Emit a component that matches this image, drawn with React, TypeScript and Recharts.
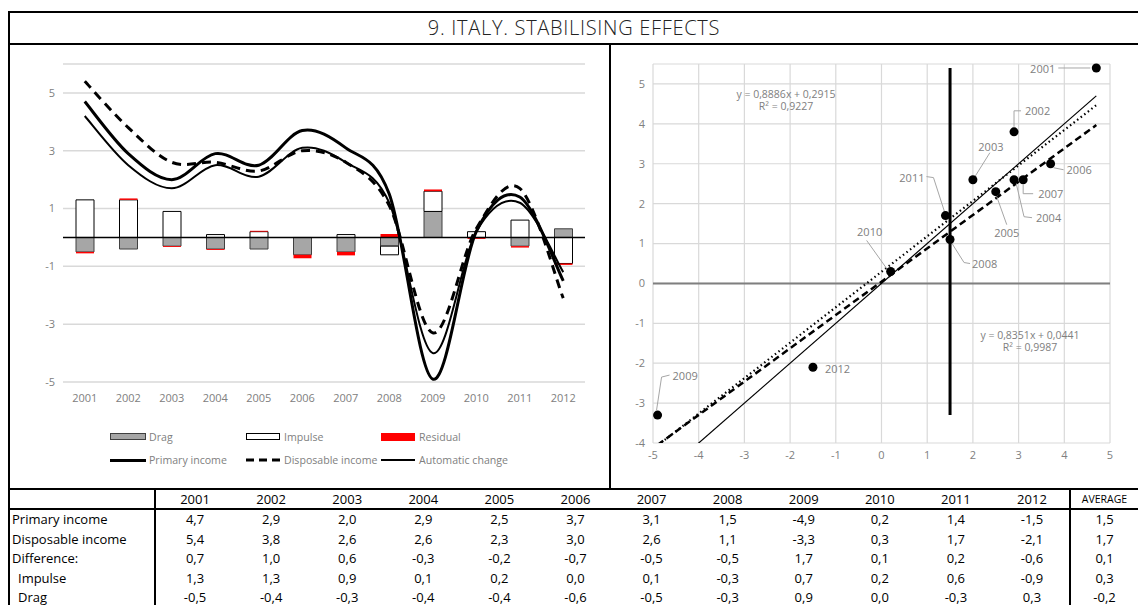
import React from 'react';
import {
  Bar, CartesianGrid, ComposedChart, Line, ReferenceLine, Scatter, ScatterChart, XAxis, YAxis,
} from 'recharts';

const years = ['2001', '2002', '2003', '2004', '2005', '2006', '2007', '2008', '2009', '2010', '2011', '2012'];
const primaryIncome = [4.7, 2.9, 2.0, 2.9, 2.5, 3.7, 3.1, 1.5, -4.9, 0.2, 1.4, -1.5];
const disposableIncome = [5.4, 3.8, 2.6, 2.6, 2.3, 3.0, 2.6, 1.1, -3.3, 0.3, 1.7, -2.1];
const automaticChange = [4.2, 2.5, 1.7, 2.5, 2.1, 3.1, 2.6, 1.2, -4.0, 0.2, 1.2, -1.2];
const difference = [0.7, 1.0, 0.6, -0.3, -0.2, -0.7, -0.5, -0.5, 1.7, 0.1, 0.2, -0.6];
const impulse = [1.3, 1.3, 0.9, 0.1, 0.2, 0.0, 0.1, -0.3, 0.7, 0.2, 0.6, -0.9];
const drag = [-0.5, -0.4, -0.3, -0.4, -0.4, -0.6, -0.5, -0.3, 0.9, 0.0, -0.3, 0.3];
const residual = [-0.05, 0.05, -0.03, -0.03, 0.03, -0.12, -0.12, 0.12, 0.06, -0.05, -0.05, -0.05];

const avgPrimary = 1.5;
const avgDisposable = 1.7;
const avgDifference = 0.1;
const avgImpulse = 0.3;
const avgDrag = -0.2;

const trendDotted = {slope: 0.8886, intercept: 0.2915, r2: 0.9227};
const trendDashed = {slope: 0.8351, intercept: 0.0441, r2: 0.9987};

const leftTicks = [-5, -3, -1, 1, 3, 5];
const scatterXTicks = [-5, -4, -3, -2, -1, 0, 1, 2, 3, 4, 5];
const scatterYTicks = [-4, -3, -2, -1, 0, 1, 2, 3, 4, 5];

const FONT = '"Open Sans", "DejaVu Sans", sans-serif';
const GREY = '#808080';

const leftData = years.map((year, i) => ({
  year,
  drag: drag[i],
  impulse: impulse[i],
  residual: residual[i],
  primary: primaryIncome[i],
  disposable: disposableIncome[i],
  automatic: automaticChange[i],
}));

const scatterData = years.map((year, i) => ({year, x: primaryIncome[i], y: disposableIncome[i]}));

const fmt = (v: number, d = 1) => v.toFixed(d).replace('.', ',');

// excel-like smoothed line (catmull-rom through the points)
const excelSmooth: any = (context: any) => {
  let pts: number[][] = [];
  return {
    areaStart() {},
    areaEnd() {},
    lineStart() { pts = []; },
    point(x: number, y: number) { pts.push([+x, +y]); },
    lineEnd() {
      if (!pts.length) return;
      context.moveTo(pts[0][0], pts[0][1]);
      for (let i = 0; i < pts.length - 1; i++) {
        const p0 = pts[Math.max(i - 1, 0)];
        const p1 = pts[i];
        const p2 = pts[i + 1];
        const p3 = pts[Math.min(i + 2, pts.length - 1)];
        context.bezierCurveTo(
          p1[0] + (p2[0] - p0[0]) / 6, p1[1] + (p2[1] - p0[1]) / 6,
          p2[0] - (p3[0] - p1[0]) / 6, p2[1] - (p3[1] - p1[1]) / 6,
          p2[0], p2[1],
        );
      }
    },
  };
};

// label offsets (px) relative to each scatter point
const labelPlacement: Record<string, {dx: number; dy: number; anchor: string; leader: number[][]}> = {
  '2001': {dx: -41, dy: 1, anchor: 'end', leader: [[-6, 0], [-38, 0]]},
  '2002': {dx: 11, dy: -21, anchor: 'start', leader: [[0, -5], [0, -21], [7, -21]]},
  '2003': {dx: 18, dy: -33, anchor: 'middle', leader: [[2, -3], [17, -27]]},
  '2004': {dx: 22, dy: 38, anchor: 'start', leader: [[2, 3], [10, 37], [18, 38]]},
  '2005': {dx: 11, dy: 41, anchor: 'middle', leader: [[1, 5], [11, 33]]},
  '2006': {dx: 16, dy: 6, anchor: 'start', leader: [[3, 4], [13, 6]]},
  '2007': {dx: 15, dy: 14, anchor: 'start', leader: [[0, 5], [0, 14], [10, 14]]},
  '2008': {dx: 22, dy: 24, anchor: 'start', leader: [[2, 4], [14, 23], [20, 24]]},
  '2009': {dx: 15, dy: -40, anchor: 'start', leader: [[-1, -5], [4, -38], [12, -40]]},
  '2010': {dx: -21, dy: -40, anchor: 'middle', leader: [[-4, -3], [-24, -31]]},
  '2011': {dx: -21, dy: -38, anchor: 'end', leader: [[-1, -4], [-12, -38], [-19, -39]]},
  '2012': {dx: 12, dy: 1, anchor: 'start', leader: []},
};

const ScatterPoint = (props: any) => {
  const {cx, cy, payload} = props;
  const p = labelPlacement[payload.year];
  return (
    <g>
      {p.leader.length > 0 && (
        <polyline
          points={p.leader.map(([a, b]) => `${cx + a},${cy + b}`).join(' ')}
          fill="none" stroke="#a6a6a6" strokeWidth={1}
        />
      )}
      <circle cx={cx} cy={cy} r={4.5} fill="#000"/>
      <text x={cx + p.dx} y={cy + p.dy} textAnchor={p.anchor as any} dominantBaseline="central"
            fontSize={11} fill={GREY} fontFamily={FONT}>{payload.year}</text>
    </g>
  );
};

const hLine = (left: number, top: number, width: number, h = 2) => (
  <div style={{position: 'absolute', left, top, width, height: h, background: '#000'}}/>
);
const vLine = (left: number, top: number, height: number, w = 2) => (
  <div style={{position: 'absolute', left, top, width: w, height, background: '#000'}}/>
);

const legendText: React.CSSProperties = {position: 'absolute', fontSize: 10.6, color: GREY, lineHeight: '14px'};

const tableRows = [
  {label: 'Primary income', values: primaryIncome, avg: avgPrimary, indent: false},
  {label: 'Disposable income', values: disposableIncome, avg: avgDisposable, indent: false},
  {label: 'Difference:', values: difference, avg: avgDifference, indent: false},
  {label: 'Impulse', values: impulse, avg: avgImpulse, indent: true},
  {label: 'Drag', values: drag, avg: avgDrag, indent: true},
];

const COL0 = 155;
const COLW = (1070 - 157) / 12;
const ROW_TOP = 511;
const ROW_H = 19.5;

const App = () => {
  const xMin = Math.min(...primaryIncome);
  const xMax = Math.max(...primaryIncome);
  const yMin = Math.min(...disposableIncome);
  const yMax = Math.max(...disposableIncome);
  return (
    <div style={{position: 'absolute', left: 0, top: 0, width: 1138, height: 605, overflow: 'hidden',
      background: '#fff', fontFamily: FONT}}>
      {/* frame */}
      {hLine(8, 11, 1130)}
      {hLine(8, 43, 1130)}
      {vLine(8, 11, 600)}
      {vLine(609, 44, 445)}
      {hLine(8, 488, 1130)}
      {hLine(8, 508, 1130)}
      {vLine(154, 489, 120)}
      {vLine(1069, 489, 120)}

      <div style={{position: 'absolute', left: 10, top: 13, width: 1128, height: 30, lineHeight: '30px',
        textAlign: 'center', fontSize: 20, letterSpacing: 0.7, fontWeight: 300, color: '#222'}}>
        9. ITALY. STABILISING EFFECTS
      </div>

      {/* left chart */}
      <div style={{position: 'absolute', left: 10, top: 44}}>
        <ComposedChart width={600} height={444} data={leftData} stackOffset="sign"
                       margin={{top: 20, right: 25, left: 13, bottom: 76}}>
          <CartesianGrid vertical={false} stroke="#d9d9d9" strokeWidth={1.5}/>
          <XAxis dataKey="year" axisLine={false} tickLine={false} interval={0} height={30} tickMargin={6}
                 tick={{fill: GREY, fontSize: 11}}/>
          <YAxis domain={[-5, 6]} ticks={leftTicks} axisLine={false} tickLine={false} width={40}
                 tick={{fill: GREY, fontSize: 11}}/>
          <Bar dataKey="drag" stackId="s" fill="#a6a6a6" stroke="#404040" strokeWidth={1} barSize={18}
               isAnimationActive={false}/>
          <Bar dataKey="impulse" stackId="s" fill="#ffffff" stroke="#000" strokeWidth={1} barSize={18}
               isAnimationActive={false}/>
          <Bar dataKey="residual" stackId="s" fill="#ff0000" barSize={18} isAnimationActive={false}/>
          <ReferenceLine y={0} stroke="#000" strokeWidth={1.5}/>
          <Line dataKey="automatic" type={excelSmooth} stroke="#000" strokeWidth={2} dot={false}
                isAnimationActive={false}/>
          <Line dataKey="disposable" type={excelSmooth} stroke="#000" strokeWidth={3} strokeDasharray="9 6"
                dot={false} isAnimationActive={false}/>
          <Line dataKey="primary" type={excelSmooth} stroke="#000" strokeWidth={3} dot={false}
                isAnimationActive={false}/>
        </ComposedChart>
      </div>

      {/* left legend */}
      <div style={{position: 'absolute', left: 110, top: 433, width: 34, height: 5, background: '#a6a6a6',
        border: '1px solid #404040'}}/>
      <div style={{...legendText, left: 149, top: 430}}>Drag</div>
      <div style={{position: 'absolute', left: 246, top: 433, width: 32, height: 5, background: '#fff',
        border: '1px solid #000'}}/>
      <div style={{...legendText, left: 284, top: 430}}>Impulse</div>
      <div style={{position: 'absolute', left: 381, top: 433, width: 34, height: 8, background: '#ff0000'}}/>
      <div style={{...legendText, left: 419, top: 430}}>Residual</div>

      <div style={{position: 'absolute', left: 110, top: 459, width: 36, height: 3, background: '#000'}}/>
      <div style={{...legendText, left: 149, top: 453}}>Primary income</div>
      <svg style={{position: 'absolute', left: 246, top: 455}} width={36} height={10}>
        <line x1={0} y1={5} x2={34} y2={5} stroke="#000" strokeWidth={3} strokeDasharray="8 5"/>
      </svg>
      <div style={{...legendText, left: 284, top: 453}}>Disposable income</div>
      <div style={{position: 'absolute', left: 381, top: 459, width: 34, height: 2, background: '#000'}}/>
      <div style={{...legendText, left: 419, top: 453}}>Automatic change</div>

      {/* right scatter */}
      <div style={{position: 'absolute', left: 611, top: 44}}>
        <ScatterChart width={527} height={444} margin={{top: 20, right: 28, left: 12, bottom: 20}}>
          <CartesianGrid stroke="#d9d9d9" strokeWidth={1.2}/>
          <XAxis type="number" dataKey="x" domain={[-5, 5]} ticks={scatterXTicks} axisLine={false}
                 tickLine={false} height={25} tick={{fill: GREY, fontSize: 11}}/>
          <YAxis type="number" dataKey="y" domain={[-4, 5.5]} ticks={scatterYTicks} axisLine={false}
                 tickLine={false} width={30} tick={{fill: GREY, fontSize: 11}}/>
          <ReferenceLine y={0} stroke="#7f7f7f" strokeWidth={2}/>
          <ReferenceLine ifOverflow="hidden" stroke="#000" strokeWidth={1.2}
                         segment={[{x: xMin, y: xMin}, {x: xMax, y: xMax}]}/>
          <ReferenceLine ifOverflow="hidden" stroke="#000" strokeWidth={2.2} strokeDasharray="1.5 3"
                         segment={[
                           {x: xMin, y: trendDotted.slope * xMin + trendDotted.intercept},
                           {x: xMax, y: trendDotted.slope * xMax + trendDotted.intercept},
                         ]}/>
          <ReferenceLine ifOverflow="hidden" stroke="#000" strokeWidth={2.5} strokeDasharray="7 4"
                         segment={[
                           {x: xMin, y: trendDashed.slope * xMin + trendDashed.intercept},
                           {x: xMax, y: trendDashed.slope * xMax + trendDashed.intercept},
                         ]}/>
          <ReferenceLine stroke="#000" strokeWidth={3}
                         segment={[{x: avgPrimary, y: yMin}, {x: avgPrimary, y: yMax}]}/>
          <Scatter data={scatterData} shape={ScatterPoint} isAnimationActive={false}/>
        </ScatterChart>
      </div>

      <div style={{position: 'absolute', left: 716, top: 88, width: 140, textAlign: 'center', fontSize: 10.5,
        color: GREY, lineHeight: '12px'}}>
        y = {fmt(trendDotted.slope, 4)}x + {fmt(trendDotted.intercept, 4)}<br/>R² = {fmt(trendDotted.r2, 4)}
      </div>
      <div style={{position: 'absolute', left: 960, top: 329, width: 140, textAlign: 'center', fontSize: 10.5,
        color: GREY, lineHeight: '12px'}}>
        y = {fmt(trendDashed.slope, 4)}x + {fmt(trendDashed.intercept, 4)}<br/>R² = {fmt(trendDashed.r2, 4)}
      </div>

      {/* table */}
      {years.map((y, i) => (
        <div key={y} style={{position: 'absolute', left: COL0 + 2 + i * COLW, top: 490, width: COLW,
          textAlign: 'center', fontSize: 13, lineHeight: '18px', color: '#000'}}>{y}</div>
      ))}
      <div style={{position: 'absolute', left: 1071, top: 490, width: 67, textAlign: 'center', fontSize: 10.5,
        lineHeight: '18px', color: '#000'}}>AVERAGE</div>
      {tableRows.map((row, r) => (
        <React.Fragment key={row.label}>
          <div style={{position: 'absolute', left: row.indent ? 18 : 12, top: ROW_TOP + r * ROW_H, fontSize: 13,
            lineHeight: '16px', color: '#000'}}>{row.label}</div>
          {row.values.map((v, i) => (
            <div key={i} style={{position: 'absolute', left: COL0 + 2 + i * COLW, top: ROW_TOP + r * ROW_H,
              width: COLW, textAlign: 'center', fontSize: 13, lineHeight: '16px', color: '#000'}}>{fmt(v)}</div>
          ))}
          <div style={{position: 'absolute', left: 1071, top: ROW_TOP + r * ROW_H, width: 67, textAlign: 'center',
            fontSize: 13, lineHeight: '16px', color: '#000'}}>{fmt(row.avg)}</div>
        </React.Fragment>
      ))}
    </div>
  );
};

export default App;
